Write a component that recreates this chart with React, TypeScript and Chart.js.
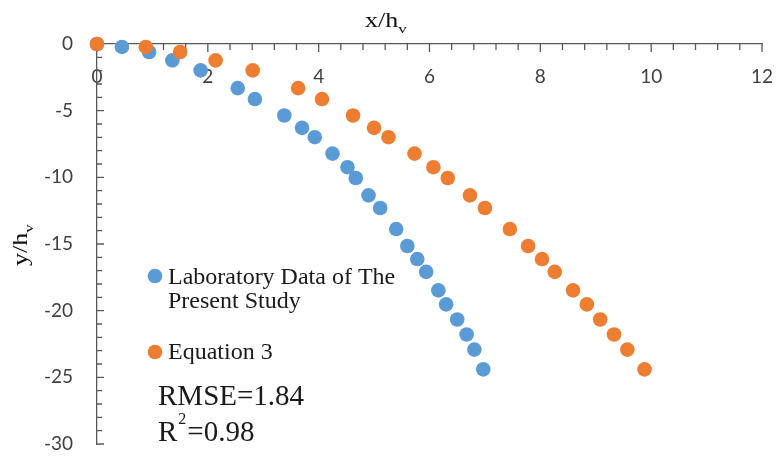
import React, { useEffect, useRef } from 'react';
import { Chart, registerables } from 'chart.js';

Chart.register(...registerables);

// ---- data ----
const yValues = [0, -0.22, -0.6, -1.23, -1.98, -3.31, -4.13, -5.36, -6.29, -6.99, -8.22, -9.24, -10.05, -11.35, -12.3, -13.88, -15.15, -16.13, -17.09, -18.48, -19.53, -20.66, -21.79, -22.92, -24.4];
const labX = [0, 0.45, 0.94, 1.36, 1.87, 2.54, 2.85, 3.38, 3.7, 3.93, 4.25, 4.52, 4.67, 4.9, 5.11, 5.4, 5.6, 5.78, 5.94, 6.16, 6.3, 6.5, 6.67, 6.81, 6.97];
const eqX = [0, 0.88, 1.5, 2.14, 2.81, 3.63, 4.06, 4.62, 5.0, 5.26, 5.73, 6.07, 6.33, 6.73, 7.0, 7.45, 7.78, 8.03, 8.26, 8.59, 8.84, 9.08, 9.33, 9.57, 9.88];

const seriesNames = [['Laboratory Data of The', 'Present Study'], ['Equation 3']];
const seriesColors = ['#5B9BD5', '#ED7D31'];

const xMin = 0, xMax = 12, xMajor = 2, xMinor = 0.4;
const yMin = -30, yMax = 0, yMajor = 5, yMinor = 1;

const xTitle = ['x/h', 'v'];
const yTitle = ['y/h', 'v'];
const statLines = ['RMSE=1.84', ['R', '2', '=0.98']];

const AXIS_COLOR = '#595959';
const TICK_TEXT = '#404040';
const SERIF = '"Liberation Serif", "Times New Roman", serif';
const POINT_R = 7.3;

const ticksPlugin = {
  id: 'minorTicks',
  beforeDatasetsDraw(chart: any) {
    const { ctx, scales } = chart;
    const xs = scales.x, ys = scales.y;
    const y0 = ys.getPixelForValue(0);
    const x0 = xs.getPixelForValue(0);
    ctx.save();
    ctx.strokeStyle = AXIS_COLOR;
    ctx.lineWidth = 1.3;
    ctx.beginPath();
    const nx = Math.round((xMax - xMin) / xMinor);
    const perX = Math.round(xMajor / xMinor);
    for (let i = 0; i <= nx; i++) {
      const px = xs.getPixelForValue(xMin + i * xMinor);
      const len = i % perX === 0 ? 8 : 6;
      ctx.moveTo(px, y0);
      ctx.lineTo(px, y0 + len);
    }
    const ny = Math.round((yMax - yMin) / yMinor);
    const perY = Math.round(yMajor / yMinor);
    for (let i = 0; i <= ny; i++) {
      const py = ys.getPixelForValue(yMax - i * yMinor);
      const len = i % perY === 0 ? 7 : 5;
      ctx.moveTo(x0, py);
      ctx.lineTo(x0 + len, py);
    }
    ctx.stroke();
    ctx.restore();
  },
};

const textPlugin = {
  id: 'texts',
  afterDraw(chart: any) {
    const { ctx } = chart;
    ctx.save();
    ctx.fillStyle = '#111';
    ctx.textBaseline = 'alphabetic';
    ctx.textAlign = 'left';
    const sx = 1.3;

    // x title
    ctx.save();
    ctx.translate(365, 27);
    ctx.scale(sx, 1);
    ctx.font = `20px ${SERIF}`;
    ctx.fillText(xTitle[0], 0, 0);
    const w1 = ctx.measureText(xTitle[0]).width;
    ctx.font = `13px ${SERIF}`;
    ctx.fillText(xTitle[1], w1, 6);
    ctx.restore();

    // y title (rotated)
    ctx.save();
    ctx.translate(27, 266);
    ctx.rotate(-Math.PI / 2);
    ctx.scale(sx, 1);
    ctx.font = `20px ${SERIF}`;
    ctx.fillText(yTitle[0], 0, 0);
    const w2 = ctx.measureText(yTitle[0]).width;
    ctx.font = `13px ${SERIF}`;
    ctx.fillText(yTitle[1], w2, 6);
    ctx.restore();

    // legend
    const legendY = [[284, 308], [359]];
    const markerY = [276, 352];
    seriesNames.forEach((lines, i) => {
      ctx.beginPath();
      ctx.fillStyle = seriesColors[i];
      ctx.arc(155, markerY[i], POINT_R, 0, Math.PI * 2);
      ctx.fill();
      ctx.fillStyle = '#1a1a1a';
      ctx.font = `24px ${SERIF}`;
      lines.forEach((t, j) => ctx.fillText(t, 168, legendY[i][j]));
    });

    // statistics
    ctx.fillStyle = '#1a1a1a';
    ctx.font = `29px ${SERIF}`;
    ctx.fillText(statLines[0] as string, 158, 405);
    const parts = statLines[1] as string[];
    let x = 158;
    ctx.fillText(parts[0], x, 441);
    x += ctx.measureText(parts[0]).width + 1;
    ctx.font = `16px ${SERIF}`;
    ctx.fillText(parts[1], x, 424);
    x += ctx.measureText(parts[1]).width + 1;
    ctx.font = `29px ${SERIF}`;
    ctx.fillText(parts[2], x, 441);
    ctx.restore();
  },
};

export default function App() {
  const ref = useRef<HTMLCanvasElement | null>(null);
  useEffect(() => {
    if (!ref.current) return;
    const chart = new Chart(ref.current, {
      type: 'scatter',
      data: {
        datasets: [
          {
            label: seriesNames[0].join(' '),
            data: labX.map((x, i) => ({ x, y: yValues[i] })),
            backgroundColor: seriesColors[0],
            borderColor: seriesColors[0],
            borderWidth: 0,
            pointRadius: POINT_R,
            order: 2,
            clip: false,
          },
          {
            label: seriesNames[1].join(' '),
            data: eqX.map((x, i) => ({ x, y: yValues[i] })),
            backgroundColor: seriesColors[1],
            borderColor: seriesColors[1],
            borderWidth: 0,
            pointRadius: POINT_R,
            order: 1,
            clip: false,
          },
        ],
      },
      options: {
        animation: false,
        responsive: true,
        maintainAspectRatio: false,
        layout: { padding: { top: 44, right: 16, bottom: 12, left: 0 } },
        plugins: { legend: { display: false }, tooltip: { enabled: false } },
        scales: {
          x: {
            type: 'linear',
            position: { y: 0 } as any,
            min: xMin,
            max: xMax,
            afterFit: (s: any) => {
              s.paddingLeft = 0;
              s.paddingRight = 0;
              s.paddingTop = 0;
              s.paddingBottom = 0;
              s.height = 0;
            },
            ticks: {
              stepSize: xMajor,
              padding: 21,
              color: TICK_TEXT,
              font: { family: 'Lato', size: 19 },
            },
            grid: { display: true, drawOnChartArea: false, drawTicks: false },
            border: { display: true, color: AXIS_COLOR, width: 1.3 },
          },
          y: {
            type: 'linear',
            position: 'left',
            min: yMin,
            max: yMax,
            afterFit: (s: any) => {
              s.width = 97;
              s.paddingTop = 0;
              s.paddingBottom = 0;
            },
            ticks: {
              stepSize: yMajor,
              padding: 24,
              color: TICK_TEXT,
              font: { family: 'Lato', size: 19 },
            },
            grid: { display: true, drawOnChartArea: false, drawTicks: false },
            border: { display: true, color: AXIS_COLOR, width: 1.3 },
          },
        },
      },
      plugins: [ticksPlugin, textPlugin],
    });
    return () => chart.destroy();
  }, []);
  return (
    <div style={{ position: 'fixed', left: 0, top: 0, width: 778, height: 456, background: '#fff' }}>
      <canvas ref={ref} style={{ display: 'block', width: '100%', height: '100%' }} />
    </div>
  );
}
